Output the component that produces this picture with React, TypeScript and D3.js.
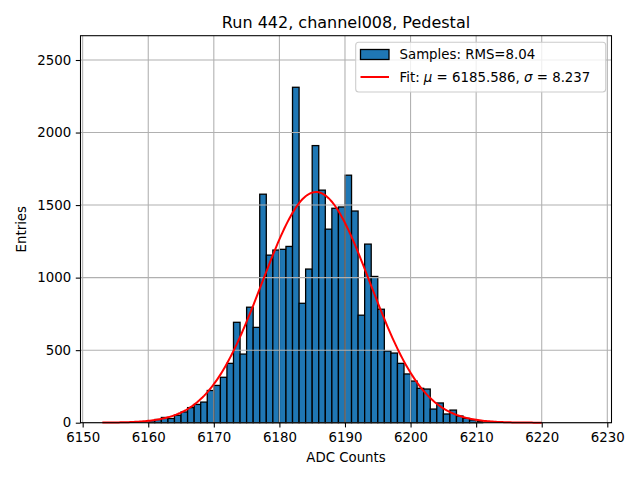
import React, { useEffect, useRef } from "react";
import * as d3 from "d3";

// Histogram bins (left edges, width 1 ADC count) and entries
const binStarts = [
  6160, 6161, 6162, 6163, 6164, 6165, 6166, 6167, 6168, 6169, 6170, 6171, 6172,
  6173, 6174, 6175, 6176, 6177, 6178, 6179, 6180, 6181, 6182, 6183, 6184, 6185,
  6186, 6187, 6188, 6189, 6190, 6191, 6192, 6193, 6194, 6195, 6196, 6197, 6198,
  6199, 6200, 6201, 6202, 6203, 6204, 6205, 6206, 6207, 6208, 6209, 6210,
];
const counts = [
  14, 22, 36, 29, 51, 74, 104, 126, 142, 222, 257, 313, 409, 692, 473, 796, 657,
  1575, 1155, 1190, 1195, 1215, 2312, 823, 1059, 1910, 1603, 1334, 1478, 1487,
  1706, 1459, 741, 1231, 1008, 782, 494, 480, 409, 336, 287, 237, 232, 94, 136,
  60, 87, 46, 30, 19, 10,
];
const binWidth = 1;

// Gaussian fit shown in the legend
const fitMu = 6185.586;
const fitSigma = 8.237;
const fitPeak = 1590;
const fitRange = [6153, 6220];

const xTicks = [6150, 6160, 6170, 6180, 6190, 6200, 6210, 6220, 6230];
const yTicks = [0, 500, 1000, 1500, 2000, 2500];

const title = "Run 442, channel008, Pedestal";
const xLabel = "ADC Counts";
const yLabel = "Entries";
const rms = "8.04";

export default function App() {
  const ref = useRef<SVGSVGElement | null>(null);

  useEffect(() => {
    const width = 640;
    const height = 480;
    const margin = { top: 35.7, right: 28.5, bottom: 57.3, left: 80.5 };
    const font = "DejaVu Sans, sans-serif";

    const svg = d3.select(ref.current);
    svg.selectAll("*").remove();

    const x = d3
      .scaleLinear()
      .domain([6149.67, 6230.64])
      .range([margin.left, width - margin.right]);
    const y = d3
      .scaleLinear()
      .domain([0, 2667.5])
      .range([height - margin.bottom, margin.top]);

    svg.append("rect").attr("width", width).attr("height", height).attr("fill", "white");

    // bars
    svg
      .append("g")
      .selectAll("rect")
      .data(binStarts)
      .join("rect")
      .attr("x", (d) => x(d))
      .attr("width", (d) => x(d + binWidth) - x(d))
      .attr("y", (d, i) => y(counts[i]))
      .attr("height", (d, i) => y(0) - y(counts[i]))
      .attr("fill", "#1f77b4")
      .attr("stroke", "black")
      .attr("stroke-width", 1.3);

    // grid (above bars, below the fit line)
    const grid = svg.append("g").attr("stroke", "#b0b0b0").attr("stroke-width", 1.07);
    grid
      .selectAll("line.gx")
      .data(xTicks)
      .join("line")
      .attr("x1", (d) => x(d))
      .attr("x2", (d) => x(d))
      .attr("y1", margin.top)
      .attr("y2", height - margin.bottom);
    grid
      .selectAll("line.gy")
      .data(yTicks)
      .join("line")
      .attr("y1", (d) => y(d))
      .attr("y2", (d) => y(d))
      .attr("x1", margin.left)
      .attr("x2", width - margin.right);

    // fit curve
    const fitX = d3.range(fitRange[0], fitRange[1] + 0.001, 0.25);
    const gauss = (v: number) =>
      fitPeak * Math.exp(-((v - fitMu) ** 2) / (2 * fitSigma * fitSigma));
    svg
      .append("path")
      .datum(fitX)
      .attr("fill", "none")
      .attr("stroke", "red")
      .attr("stroke-width", 2)
      .attr(
        "d",
        d3
          .line<number>()
          .x((d) => x(d))
          .y((d) => y(gauss(d)))
      );

    // frame
    svg
      .append("rect")
      .attr("x", margin.left)
      .attr("y", margin.top)
      .attr("width", width - margin.left - margin.right)
      .attr("height", height - margin.top - margin.bottom)
      .attr("fill", "none")
      .attr("stroke", "black")
      .attr("stroke-width", 1.07);

    // x axis
    const xAxis = svg
      .append("g")
      .attr("transform", `translate(0,${height - margin.bottom})`)
      .call(d3.axisBottom(x).tickValues(xTicks).tickSize(4.7).tickPadding(4.7).tickFormat(d3.format("d")));
    xAxis.select(".domain").remove();

    // y axis
    const yAxis = svg
      .append("g")
      .attr("transform", `translate(${margin.left},0)`)
      .call(d3.axisLeft(y).tickValues(yTicks).tickSize(4.7).tickPadding(4.7).tickFormat(d3.format("d")));
    yAxis.select(".domain").remove();

    [xAxis, yAxis].forEach((a) => {
      a.selectAll("line").attr("stroke", "black").attr("stroke-width", 1.07);
      a.selectAll("text").attr("font-family", font).attr("font-size", 13.33).attr("fill", "black");
    });

    // labels
    svg
      .append("text")
      .attr("x", (margin.left + width - margin.right) / 2)
      .attr("y", 28)
      .attr("text-anchor", "middle")
      .attr("font-family", font)
      .attr("font-size", 16)
      .text(title);
    svg
      .append("text")
      .attr("x", (margin.left + width - margin.right) / 2)
      .attr("y", 462)
      .attr("text-anchor", "middle")
      .attr("font-family", font)
      .attr("font-size", 13.33)
      .text(xLabel);
    svg
      .append("text")
      .attr("transform", `translate(26,${(margin.top + height - margin.bottom) / 2}) rotate(-90)`)
      .attr("text-anchor", "middle")
      .attr("font-family", font)
      .attr("font-size", 13.33)
      .text(yLabel);

    // legend
    const lg = svg.append("g");
    lg.append("rect")
      .attr("x", 355.7)
      .attr("y", 42.3)
      .attr("width", 250)
      .attr("height", 49.7)
      .attr("rx", 3)
      .attr("fill", "white")
      .attr("fill-opacity", 0.8)
      .attr("stroke", "#cccccc")
      .attr("stroke-width", 1.07);
    lg.append("rect")
      .attr("x", 360.5)
      .attr("y", 49.5)
      .attr("width", 28.5)
      .attr("height", 10)
      .attr("fill", "#1f77b4")
      .attr("stroke", "black")
      .attr("stroke-width", 1.3);
    lg.append("text")
      .attr("x", 399.5)
      .attr("y", 59.3)
      .attr("font-family", font)
      .attr("font-size", 13.33)
      .text(`Samples: RMS=${rms}`);
    lg.append("line")
      .attr("x1", 360.5)
      .attr("x2", 389)
      .attr("y1", 77)
      .attr("y2", 77)
      .attr("stroke", "red")
      .attr("stroke-width", 2);
    const fitText = lg
      .append("text")
      .attr("x", 399.5)
      .attr("y", 82)
      .attr("font-family", font)
      .attr("font-size", 13.33);
    fitText.append("tspan").text("Fit: ");
    fitText.append("tspan").attr("font-style", "italic").text("μ");
    fitText.append("tspan").text(` = ${fitMu.toFixed(3)}, `);
    fitText.append("tspan").attr("font-style", "italic").text("σ");
    fitText.append("tspan").text(` = ${fitSigma.toFixed(3)}`);
  }, []);

  return (
    <svg
      ref={ref}
      width={640}
      height={480}
      style={{ position: "fixed", left: 0, top: 0, display: "block" }}
    />
  );
}
